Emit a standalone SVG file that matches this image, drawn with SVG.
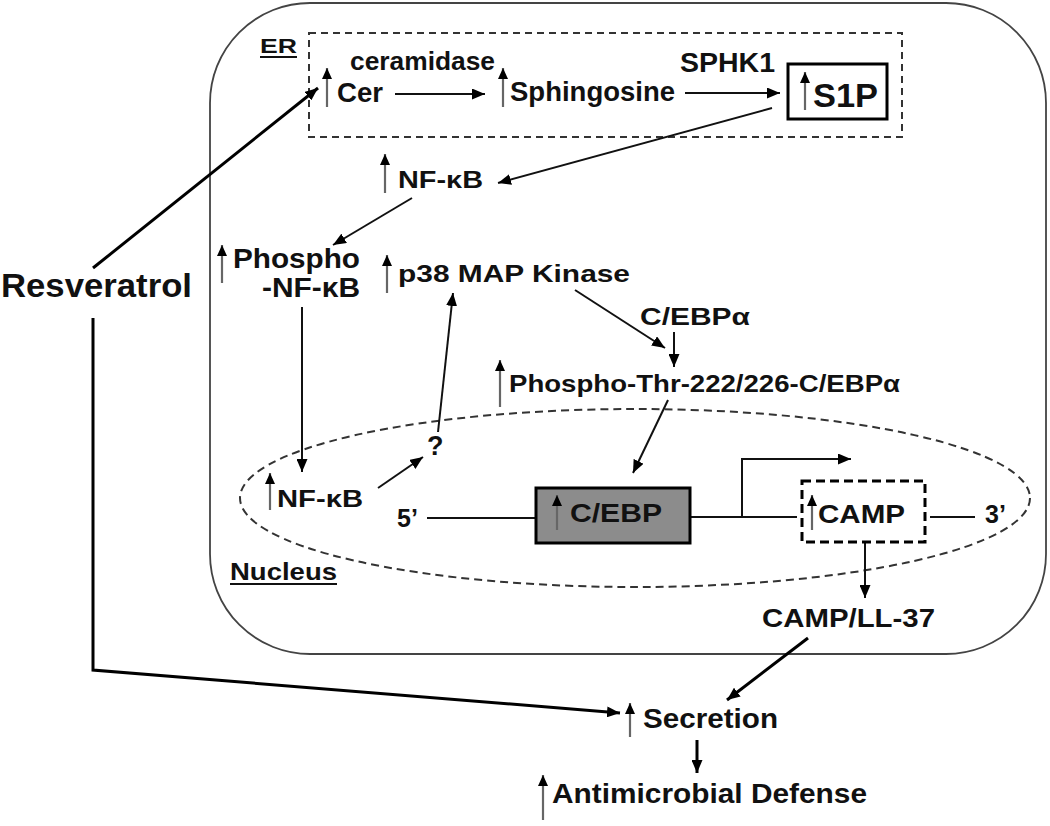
<svg xmlns="http://www.w3.org/2000/svg" width="1050" height="826" viewBox="0 0 1050 826">
<defs>
<style>
text{font-family:"Liberation Sans",Arial,sans-serif;font-weight:bold;fill:#111}
.ln{stroke:#111;stroke-width:2;fill:none}
.thk{stroke:#000;stroke-width:3;fill:none}
.up{stroke:#666;stroke-width:2.2;fill:none}
</style>
<marker id="ah" markerWidth="13" markerHeight="11" refX="13" refY="5.5" orient="auto" markerUnits="userSpaceOnUse"><path d="M0,0 L13,5.5 L0,11 z" fill="#000"/></marker>
<marker id="uh" markerWidth="11" markerHeight="10" refX="11" refY="5" orient="auto" markerUnits="userSpaceOnUse"><path d="M0,0 L11,5 L0,10 z" fill="#000"/></marker>
</defs>
<rect width="1050" height="826" fill="#fff"/>
<g id="cell"><rect x="210" y="3" width="836" height="651" rx="100" ry="100" fill="none" stroke="#444" stroke-width="1.8"/></g>
<g id="er"><rect x="309" y="33" width="593" height="104" fill="none" stroke="#333" stroke-width="2" stroke-dasharray="7 5"/>
<text x="260" y="53" font-size="21" textLength="37" lengthAdjust="spacingAndGlyphs">ER</text><line x1="260" y1="57" x2="297" y2="57" stroke="#111" stroke-width="2"/></g>
<g id="nucleus"><ellipse cx="635" cy="498" rx="395" ry="89" fill="none" stroke="#333" stroke-width="2" stroke-dasharray="8 5"/>
<text x="230" y="580" font-size="24" textLength="107" lengthAdjust="spacingAndGlyphs">Nucleus</text><line x1="230" y1="584" x2="337" y2="584" stroke="#111" stroke-width="2"/></g>
<g id="connectors">
<line class="ln" x1="395" y1="94" x2="485" y2="94" marker-end="url(#ah)"/>
<line class="ln" x1="685" y1="93" x2="780" y2="93" marker-end="url(#ah)"/>
<line class="ln" x1="772" y1="108" x2="498" y2="183" marker-end="url(#ah)"/>
<line class="ln" x1="412" y1="198" x2="333" y2="245" marker-end="url(#ah)"/>
<line class="ln" x1="302" y1="307" x2="302" y2="472" marker-end="url(#ah)"/>
<line class="ln" x1="378" y1="488" x2="423" y2="457" stroke-width="2.5" marker-end="url(#ah)"/>
<line class="ln" x1="438" y1="432" x2="453" y2="293" marker-end="url(#ah)"/>
<line class="ln" x1="575" y1="290" x2="665" y2="348" marker-end="url(#ah)"/>
<line class="ln" x1="674" y1="332" x2="674" y2="367" marker-end="url(#ah)"/>
<line class="ln" x1="668" y1="400" x2="633" y2="473" marker-end="url(#ah)"/>
<line class="ln" x1="427" y1="518" x2="536" y2="518" stroke-width="2.5"/>
<line class="ln" x1="690" y1="517" x2="797" y2="517" stroke-width="2.5"/>
<line class="ln" x1="930" y1="517" x2="975" y2="517" stroke-width="2.5"/>
<path class="ln" d="M742,517 V459 H851" stroke-width="2.5" marker-end="url(#ah)"/>
<line class="ln" x1="865" y1="542" x2="865" y2="598" marker-end="url(#ah)"/>
<line class="thk" x1="808" y1="638" x2="727" y2="700" marker-end="url(#ah)"/>
<line class="thk" x1="93" y1="268" x2="318" y2="88" marker-end="url(#ah)"/>
<path class="thk" d="M93,318 V670 L620,713" marker-end="url(#ah)"/>
<line class="thk" x1="697" y1="740" x2="697" y2="773" marker-end="url(#ah)"/>
</g>
<g id="ceramidase"><text x="350" y="70" font-size="26" textLength="145" lengthAdjust="spacingAndGlyphs">ceramidase</text></g>
<g id="cer"><text x="337" y="102" font-size="28" textLength="46" lengthAdjust="spacingAndGlyphs">Cer</text></g>
<g id="sphingosine"><text x="510" y="101" font-size="27" textLength="165" lengthAdjust="spacingAndGlyphs">Sphingosine</text></g>
<g id="sphk1"><text x="680" y="72" font-size="27" textLength="95" lengthAdjust="spacingAndGlyphs">SPHK1</text></g>
<g id="s1p"><rect x="788" y="64" width="99" height="55" fill="none" stroke="#000" stroke-width="3"/>
<text x="813" y="107" font-size="34" textLength="65" lengthAdjust="spacingAndGlyphs">S1P</text></g>
<g id="nfkb-top"><text x="398" y="188" font-size="24" textLength="85" lengthAdjust="spacingAndGlyphs">NF-κB</text></g>
<g id="phospho-nfkb"><text x="233" y="268" font-size="28" textLength="127" lengthAdjust="spacingAndGlyphs">Phospho</text>
<text x="262" y="297" font-size="27" textLength="98" lengthAdjust="spacingAndGlyphs">-NF-κB</text></g>
<g id="resveratrol"><text x="1" y="297" font-size="34" textLength="191" lengthAdjust="spacingAndGlyphs">Resveratrol</text></g>
<g id="p38"><text x="398" y="282" font-size="24" textLength="232" lengthAdjust="spacingAndGlyphs">p38 MAP Kinase</text></g>
<g id="cebpa"><text x="640" y="325" font-size="24" textLength="110" lengthAdjust="spacingAndGlyphs">C/EBPα</text></g>
<g id="phospho-thr"><text x="509" y="392" font-size="24" textLength="391" lengthAdjust="spacingAndGlyphs">Phospho-Thr-222/226-C/EBPα</text></g>
<g id="nfkb-nuc"><text x="277" y="507" font-size="24" textLength="86" lengthAdjust="spacingAndGlyphs">NF-κB</text></g>
<g id="question"><text x="427" y="455" font-size="27">?</text></g>
<g id="five"><text x="397" y="527" font-size="25">5’</text></g>
<g id="cebp-box"><rect x="536" y="488" width="154" height="55" fill="#8c8c8c" stroke="#000" stroke-width="3"/>
<text x="570" y="522" font-size="26" textLength="92" lengthAdjust="spacingAndGlyphs">C/EBP</text></g>
<g id="camp-box"><rect x="802" y="481" width="123" height="61" fill="none" stroke="#000" stroke-width="3" stroke-dasharray="9 5"/>
<text x="818" y="523" font-size="25" textLength="87" lengthAdjust="spacingAndGlyphs">CAMP</text></g>
<g id="three"><text x="985" y="523" font-size="25">3’</text></g>
<g id="camp-ll37"><text x="762" y="627" font-size="26" textLength="173" lengthAdjust="spacingAndGlyphs">CAMP/LL-37</text></g>
<g id="secretion"><text x="643" y="728" font-size="28" textLength="135" lengthAdjust="spacingAndGlyphs">Secretion</text></g>
<g id="defense"><text x="552" y="803" font-size="28" textLength="315" lengthAdjust="spacingAndGlyphs">Antimicrobial Defense</text></g>
<g id="up-arrows">
<line class="up" x1="327" y1="107" x2="327" y2="68" marker-end="url(#uh)"/>
<line class="up" x1="503" y1="107" x2="503" y2="68" marker-end="url(#uh)"/>
<line class="up" x1="805" y1="110" x2="805" y2="72" marker-end="url(#uh)"/>
<line class="up" x1="385" y1="193" x2="385" y2="154" marker-end="url(#uh)"/>
<line class="up" x1="222" y1="283" x2="222" y2="245" marker-end="url(#uh)"/>
<line class="up" x1="387" y1="293" x2="387" y2="255" marker-end="url(#uh)"/>
<line class="up" x1="500" y1="407" x2="500" y2="360" marker-end="url(#uh)"/>
<line class="up" x1="270" y1="510" x2="270" y2="473" marker-end="url(#uh)"/>
<line class="up" x1="557" y1="530" x2="557" y2="495" marker-end="url(#uh)"/>
<line class="up" x1="812" y1="530" x2="812" y2="495" marker-end="url(#uh)"/>
<line class="up" x1="630" y1="737" x2="630" y2="703" marker-end="url(#uh)"/>
<line class="up" x1="543" y1="820" x2="543" y2="775" marker-end="url(#uh)"/>
</g>
</svg>
